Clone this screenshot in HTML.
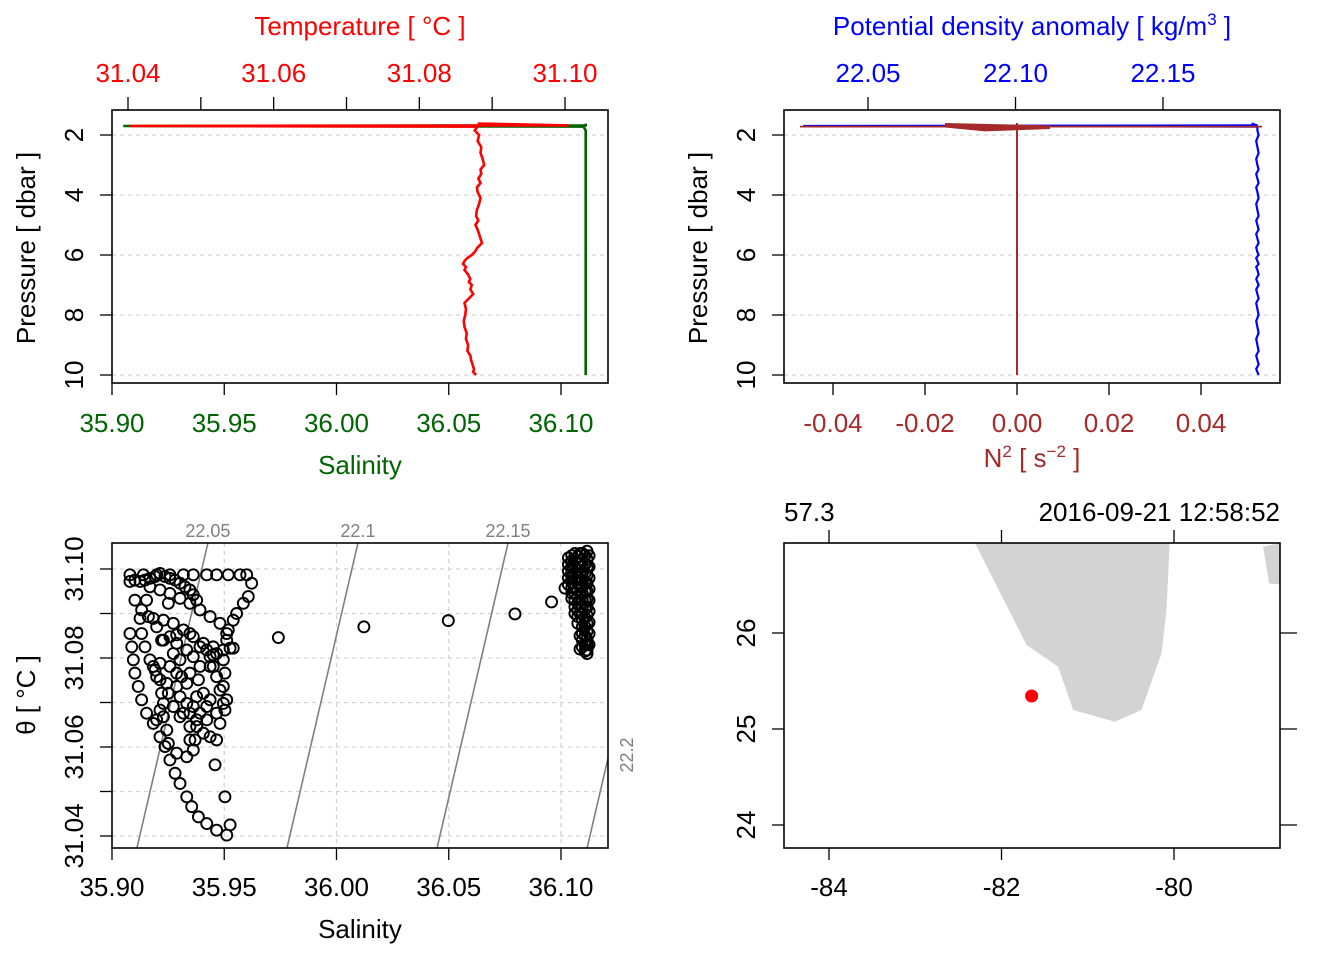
<!DOCTYPE html>
<html><head><meta charset="utf-8"><style>
html,body{margin:0;padding:0;background:#fff}
svg{display:block;font-family:"Liberation Sans",sans-serif}
</style></head><body>
<svg id="c" width="1344" height="960" viewBox="0 0 1344 960"></svg>
<script>
// ---------- data ----------
const profP = [1.62,1.68,1.70,1.72,1.85,2.0,2.2,2.4,2.6,2.8,3.0,3.15,3.3,3.45,3.6,3.75,3.9,4.1,4.3,4.5,4.7,4.85,5.0,5.15,5.3,5.45,5.6,5.75,5.9,6.0,6.1,6.2,6.3,6.4,6.5,6.65,6.8,6.9,7.0,7.15,7.3,7.45,7.6,7.8,8.0,8.2,8.4,8.6,8.8,9.0,9.2,9.35,9.5,9.65,9.8,9.9,10.0];
const profT = [31.0880,31.1005,31.0402,31.0880,31.0876,31.0882,31.0880,31.0885,31.0884,31.0887,31.0889,31.0884,31.0885,31.0881,31.0884,31.0879,31.0880,31.0884,31.0882,31.0879,31.0878,31.0881,31.0877,31.0880,31.0882,31.0884,31.0886,31.0880,31.0876,31.0872,31.0866,31.0862,31.0860,31.0864,31.0862,31.0867,31.0870,31.0868,31.0872,31.0870,31.0874,31.0868,31.0862,31.0864,31.0863,31.0861,31.0862,31.0865,31.0864,31.0867,31.0866,31.0870,31.0871,31.0873,31.0875,31.0874,31.0878];
const profS = [36.111,36.111,35.905,36.110,36.111,36.111,36.111,36.111,36.111,36.111,36.111,36.111,36.111,36.111,36.111,36.111,36.111,36.111,36.111,36.111,36.111,36.111,36.111,36.111,36.111,36.111,36.111,36.111,36.111,36.111,36.111,36.111,36.111,36.111,36.111,36.111,36.111,36.111,36.111,36.111,36.111,36.111,36.111,36.111,36.111,36.111,36.111,36.111,36.111,36.111,36.111,36.111,36.111,36.111,36.111,36.111,36.111];
const profSig = [22.180,22.182,22.028,22.182,22.182,22.182,22.182,22.182,22.182,22.182,22.182,22.182,22.182,22.182,22.182,22.182,22.182,22.182,22.182,22.182,22.182,22.182,22.182,22.182,22.182,22.182,22.182,22.182,22.182,22.182,22.182,22.182,22.182,22.182,22.182,22.182,22.182,22.182,22.182,22.182,22.182,22.182,22.182,22.182,22.182,22.182,22.182,22.182,22.182,22.182,22.182,22.182,22.182,22.182,22.182,22.182,22.182];
const tempTicks = [31.04,31.05,31.06,31.07,31.08,31.09,31.10];
const salTicks = [35.90,35.95,36.00,36.05,36.10];
const presTicks = [2,4,6,8,10];
const sigTicks = [22.05,22.10,22.15];
const n2Ticks = [-0.04,-0.02,0.00,0.02,0.04];
const thetaTicks = [31.04,31.05,31.06,31.07,31.08,31.09,31.10];
const isoLevels = [22.05,22.1,22.15,22.2];
const tsS = [35.9080,35.9140,35.9199,35.9258,35.9318,35.9362,35.9422,35.9466,35.9518,35.9570,35.9600,
35.9622,35.9607,35.9585,35.9555,35.9540,35.9518,35.9511,35.9526,
35.9080,35.9088,35.9095,35.9102,35.9117,35.9132,35.9154,35.9184,35.9214,35.9236,35.9258,35.9281,35.9303,35.9333,35.9355,35.9385,35.9422,35.9466,35.9511,35.9526,
35.9102,35.9125,35.9132,35.9147,35.9169,35.9192,35.9214,35.9221,35.9229,35.9229,35.9244,35.9251,35.9288,35.9333,35.9362,35.9370,35.9347,
35.9169,35.9214,35.9258,35.9303,35.9347,35.9392,35.9437,35.9481,35.9511,
35.9184,35.9229,35.9273,35.9318,35.9362,35.9407,35.9451,35.9496,35.9540,
35.9080,35.9102,35.9125,35.9147,35.9169,35.9192,35.9214,35.9236,35.9258,35.9281,35.9303,35.9325,35.9347,35.9362,35.9377,35.9251,35.9154,35.9132,35.9162,35.9199,35.9221,35.9288,35.9347,35.9392,35.9422,35.9451,
35.9333,35.9377,35.9422,35.9466,35.9496,35.9481,35.9466,35.9451,35.9437,35.9466,35.9496,35.9503,35.9496,35.9511,35.9503,35.9481,35.9437,35.9407,35.9377,35.9347,35.9333,35.9303,35.9288,35.9310,35.9347,35.9385,35.9407,35.9437,35.9392,35.9362,35.9318,35.9377,35.9422,35.9466,35.9347,35.9437,35.9392,35.9362,35.9333,35.9288,35.9258,35.9229,35.9273,35.9303,35.9258,35.9214,35.9184,35.9199,35.9244,35.9288,35.9251,35.9273,35.9303,35.9214,35.9199,
35.9459,35.9503,35.9741,36.0122,36.0498,36.0795,36.0958,36.1018,
36.1033,36.1033,36.1033,36.1033,36.1033,36.1062,36.1062,36.1062,36.1062,36.1062,36.1062,36.1062,36.1062,36.1062,36.1062,
36.1085,36.1085,36.1085,36.1085,36.1085,36.1085,36.1085,36.1085,36.1085,36.1085,36.1085,36.1085,
36.1107,36.1107,36.1107,36.1107,36.1107,36.1107,36.1107,36.1107,36.1107,36.1107,36.1107,36.1107,
36.1125,36.1125,36.1125,36.1125,36.1125,36.1125,36.1125,36.1125,36.1125,
36.1048,36.1048,36.1048,36.1048,36.1048,36.1048,36.1048,36.1048,36.1048,
36.1095,36.1095,36.1095,36.1095,36.1095,36.1095,36.1095,36.1095,36.1095,36.1095,36.1095,36.1095,36.1095,36.1095,36.1095,
36.1116,36.1116,36.1116,36.1116,36.1116,36.1116,36.1116,36.1116,36.1116,36.1116,36.1116,36.1116,36.1116,36.1116,36.1116,
36.1075,36.1075,36.1075,36.1075,36.1075,36.1075,36.1075,36.1075,36.1075,36.1075,36.1075];
const tsT = [31.0987,31.0987,31.0987,31.0987,31.0987,31.0987,31.0987,31.0987,31.0987,31.0987,31.0987,
31.0968,31.0938,31.0923,31.0900,31.0885,31.0863,31.0840,31.0822,
31.0855,31.0825,31.0796,31.0766,31.0736,31.0706,31.0676,31.0653,31.0623,31.0601,31.0571,31.0541,31.0518,31.0488,31.0466,31.0443,31.0428,31.0413,31.0402,31.0425,
31.0930,31.0889,31.0855,31.0825,31.0796,31.0773,31.0751,31.0721,31.0698,31.0668,31.0638,31.0608,31.0586,31.0578,31.0593,31.0616,31.0646,
31.0960,31.0953,31.0945,31.0934,31.0923,31.0908,31.0893,31.0878,31.0855,
31.0889,31.0885,31.0878,31.0863,31.0848,31.0833,31.0825,31.0818,31.0822,
31.0972,31.0975,31.0972,31.0975,31.0979,31.0983,31.0990,31.0983,31.0979,31.0975,31.0968,31.0960,31.0953,31.0942,31.0930,31.0923,31.0930,31.0908,31.0893,31.0870,31.0840,31.0852,31.0855,31.0825,31.0818,31.0807,
31.0743,31.0713,31.0691,31.0676,31.0698,31.0728,31.0758,31.0781,31.0803,31.0810,31.0796,31.0766,31.0736,31.0706,31.0683,31.0653,31.0623,31.0631,31.0646,31.0676,31.0698,31.0713,31.0736,31.0758,31.0766,31.0751,31.0721,31.0706,31.0676,31.0691,31.0676,31.0661,31.0661,31.0616,31.0616,31.0781,31.0781,31.0803,31.0818,31.0833,31.0848,31.0840,31.0810,31.0796,31.0781,31.0788,31.0781,31.0758,31.0743,31.0766,31.0721,31.0691,31.0668,31.0683,31.0661,
31.0560,31.0488,31.0846,31.0870,31.0884,31.0899,31.0926,31.0957,
31.1025,31.1010,31.0995,31.0980,31.0965,31.1035,31.1020,31.1005,31.0990,31.0975,31.0960,31.0945,31.0930,31.0915,31.0900,
31.1035,31.1020,31.1005,31.0990,31.0975,31.0960,31.0945,31.0930,31.0915,31.0900,31.0850,31.0820,
31.1030,31.1010,31.0990,31.0970,31.0950,31.0930,31.0910,31.0890,31.0870,31.0850,31.0830,31.0815,
31.1030,31.1005,31.0980,31.0955,31.0930,31.0905,31.0880,31.0855,31.0830,
31.1030,31.1018,31.1006,31.0994,31.0982,31.0970,31.0958,31.0946,31.0934,
31.1035,31.1020,31.1005,31.0990,31.0975,31.0960,31.0945,31.0930,31.0915,31.0900,31.0885,31.0870,31.0855,31.0840,31.0825,
31.1040,31.1022,31.1004,31.0986,31.0968,31.0950,31.0932,31.0914,31.0896,31.0878,31.0860,31.0842,31.0830,31.0818,31.0810,
31.1028,31.1013,31.0998,31.0983,31.0968,31.0953,31.0938,31.0923,31.0908,31.0893,31.0878];
const lonTicks = [-84,-82,-80];
const latTicks = [24,25,26];
const landLon = [-82.40,-81.709,-81.343,-81.169,-80.686,-80.377,-80.145,-80.087,-80.05,-80.05];
const landLat = [27.1,25.875,25.649,25.198,25.076,25.198,25.789,26.240,26.934,27.1];
const islandLon = [-78.967,-78.70,-78.70,-78.898];
const islandLat = [26.899,26.95,26.50,26.516];
const stationLon = [-81.651];
const stationLat = [25.344];

// ---------- helpers ----------
const svg = document.getElementById('c');
const NS = 'http://www.w3.org/2000/svg';
function el(tag, attrs, parent, text) {
  const e = document.createElementNS(NS, tag);
  for (const k in attrs) e.setAttribute(k, attrs[k]);
  if (text !== undefined) e.textContent = text;
  (parent || svg).appendChild(e);
  return e;
}
function lin(d0, d1, r0, r1) { return v => r0 + (v - d0) * (r1 - r0) / (d1 - d0); }
const FS = 26;

const defs = el('defs', {});
[['clip1',112,110,496,273],['clip2',784,110,496,273],['clip3',112,543,496,305],['clip4',784,543,496,305]].forEach(c => {
  const cp = el('clipPath', {id: c[0]}, defs);
  el('rect', {x: c[1], y: c[2], width: c[3], height: c[4]}, cp);
});

// ================= Panel 1 =================
const p1 = el('g', {});


const yP1 = lin(2, 10, 135, 375);
const xS = lin(35.90, 36.10, 112, 561);
const xT = lin(31.04, 31.10, 128, 565);
presTicks.forEach(p => {
  const g = el('line', {x1: 112, x2: 608, y1: yP1(p), y2: yP1(p), stroke: '#d3d3d3', 'stroke-width': 1.3, 'stroke-dasharray': '4 4'}, p1);
  
  
  el('line', {x1: 100, x2: 112, y1: yP1(p), y2: yP1(p), stroke: '#000', 'stroke-width': 1.3}, p1);
  const t = el('text', {x: 0, y: 0, 'font-size': FS, 'text-anchor': 'middle', transform: `translate(83,${yP1(p)}) rotate(-90)`}, p1, String(p));
  
  
});
salTicks.forEach(s => {
  el('line', {x1: xS(s), x2: xS(s), y1: 383, y2: 395, stroke: '#000', 'stroke-width': 1.3}, p1);
  const t = el('text', {x: xS(s), y: 432, 'font-size': FS, 'text-anchor': 'middle', fill: '#006400'}, p1, s.toFixed(2));
  
  
});
tempTicks.forEach((v, i) => {
  el('line', {x1: xT(v), x2: xT(v), y1: 97, y2: 110, stroke: '#000', 'stroke-width': 1.3}, p1);
  if (i % 2 === 0) {
    const t = el('text', {x: xT(v), y: 82, 'font-size': FS, 'text-anchor': 'middle', fill: '#ff0000'}, p1, v.toFixed(2));
    
    
  }
});
const cl1 = el('g', {'clip-path': 'url(#clip1)'}, p1);
const sLine = el('polyline', {points: profP.map((p, i) => `${xS(profS[i])},${yP1(p)}`).join(' '), fill: 'none', stroke: '#006400', 'stroke-width': 2.6}, cl1);


const tLine = el('polyline', {points: profP.map((p, i) => `${xT(profT[i])},${yP1(p)}`).join(' '), fill: 'none', stroke: '#ff0000', 'stroke-width': 2.6}, cl1);


el('rect', {x: 112, y: 110, width: 496, height: 273, fill: 'none', stroke: '#000', 'stroke-width': 1.6}, p1);
const tt1 = el('text', {x: 360, y: 35, 'font-size': FS, 'text-anchor': 'middle', fill: '#ff0000'}, p1, 'Temperature [ °C ]');


const st1 = el('text', {x: 360, y: 474, 'font-size': FS, 'text-anchor': 'middle', fill: '#006400'}, p1, 'Salinity');


const pt1 = el('text', {x: 0, y: 0, 'font-size': FS, 'text-anchor': 'middle', transform: 'translate(35,248) rotate(-90)'}, p1, 'Pressure [ dbar ]');



// ================= Panel 2 =================
const p2 = el('g', {});


const yP2 = lin(2, 10, 135, 375);
const xSig = lin(22.05, 22.15, 868, 1163);
const xN = lin(-0.04, 0.04, 833, 1201);
presTicks.forEach(p => {
  el('line', {x1: 784, x2: 1280, y1: yP2(p), y2: yP2(p), stroke: '#d3d3d3', 'stroke-width': 1.3, 'stroke-dasharray': '4 4'}, p2);
  el('line', {x1: 772, x2: 784, y1: yP2(p), y2: yP2(p), stroke: '#000', 'stroke-width': 1.3}, p2);
  const t = el('text', {x: 0, y: 0, 'font-size': FS, 'text-anchor': 'middle', transform: `translate(755,${yP2(p)}) rotate(-90)`}, p2, String(p));
  
  
});
sigTicks.forEach(v => {
  el('line', {x1: xSig(v), x2: xSig(v), y1: 97, y2: 110, stroke: '#000', 'stroke-width': 1.3}, p2);
  const t = el('text', {x: xSig(v), y: 82, 'font-size': FS, 'text-anchor': 'middle', fill: '#0000ff'}, p2, v.toFixed(2));
  
  
});
n2Ticks.forEach(v => {
  el('line', {x1: xN(v), x2: xN(v), y1: 383, y2: 395, stroke: '#000', 'stroke-width': 1.3}, p2);
  const t = el('text', {x: xN(v), y: 432, 'font-size': FS, 'text-anchor': 'middle', fill: '#a52a2a'}, p2, v.toFixed(2));
  
  
});
const cl2 = el('g', {'clip-path': 'url(#clip2)'}, p2);
const sigLine = el('polyline', {points: profP.map((p, i) => `${xSig(profSig[i]) + (i > 3 ? (i % 3 - 1) * 1.2 : 0)},${yP2(p)}`).join(' '), fill: 'none', stroke: '#0000ff', 'stroke-width': 2.2}, cl2);


const n2a = el('line', {x1: 800, x2: 1262, y1: yP2(1.72), y2: yP2(1.72), stroke: '#a52a2a', 'stroke-width': 1.8}, cl2);


el('polygon', {points: `945,${yP2(1.6)} 1050,${yP2(1.68)} 1050,${yP2(1.8)} 985,${yP2(1.88)} 945,${yP2(1.75)}`, fill: '#a52a2a'}, cl2);
const n2b = el('line', {x1: xN(0), x2: xN(0), y1: yP2(1.6), y2: yP2(10), stroke: '#a52a2a', 'stroke-width': 2}, cl2);


el('rect', {x: 784, y: 110, width: 496, height: 273, fill: 'none', stroke: '#000', 'stroke-width': 1.6}, p2);
const tt2 = el('text', {x: 1032, y: 35, 'font-size': FS, 'text-anchor': 'middle', fill: '#0000ff'}, p2);


tt2.innerHTML = 'Potential density anomaly [ kg/m<tspan dy="-10" font-size="17">3</tspan><tspan dy="10"> ]</tspan>';
const nt2 = el('text', {x: 1032, y: 467, 'font-size': FS, 'text-anchor': 'middle', fill: '#a52a2a'}, p2);


nt2.innerHTML = 'N<tspan dy="-10" font-size="17">2</tspan><tspan dy="10"> [ s</tspan><tspan dy="-10" font-size="17">−2</tspan><tspan dy="10"> ]</tspan>';
const pt2 = el('text', {x: 0, y: 0, 'font-size': FS, 'text-anchor': 'middle', transform: 'translate(707,248) rotate(-90)'}, p2, 'Pressure [ dbar ]');



// ================= Panel 3 (TS) =================
const p3 = el('g', {});


const xS3 = lin(35.90, 36.10, 112, 561);
const yTh = lin(31.04, 31.10, 836, 569);
const cl3 = el('g', {'clip-path': 'url(#clip3)'}, p3);
salTicks.forEach(s => {
  el('line', {x1: xS3(s), x2: xS3(s), y1: 543, y2: 848, stroke: '#d3d3d3', 'stroke-width': 1.3, 'stroke-dasharray': '4 4'}, cl3);
  el('line', {x1: xS3(s), x2: xS3(s), y1: 848, y2: 860, stroke: '#000', 'stroke-width': 1.3}, p3);
  const t = el('text', {x: xS3(s), y: 896, 'font-size': FS, 'text-anchor': 'middle'}, p3, s.toFixed(2));
  
  
});
thetaTicks.forEach((v, i) => {
  el('line', {x1: 112, x2: 608, y1: yTh(v), y2: yTh(v), stroke: '#d3d3d3', 'stroke-width': 1.3, 'stroke-dasharray': '4 4'}, cl3);
  el('line', {x1: 100, x2: 112, y1: yTh(v), y2: yTh(v), stroke: '#000', 'stroke-width': 1.3}, p3);
  if (i % 2 === 0) {
    const t = el('text', {x: 0, y: 0, 'font-size': FS, 'text-anchor': 'middle', transform: `translate(83,${yTh(v)}) rotate(-90)`}, p3, v.toFixed(2));
    
    
  }
});
function sAtSigma(sig, T) { return 35.9111 + ((sig - 22.05) + 0.345 * (T - 31.0373)) / 0.748; }
isoLevels.forEach(sig => {
  const Ta = 31.03, Tb = 31.11;
  const ln = el('line', {x1: xS3(sAtSigma(sig, Ta)), y1: yTh(Ta), x2: xS3(sAtSigma(sig, Tb)), y2: yTh(Tb), stroke: '#808080', 'stroke-width': 1.6}, cl3);
  
  
  const Ttop = 31.10 + 26 / 4450;
  const xl = xS3(sAtSigma(sig, Ttop));
  let t;
  if (xl < 600) {
    t = el('text', {x: xl, y: 537, 'font-size': 18, 'text-anchor': 'middle', fill: '#808080'}, p3, String(sig));
  } else {
    t = el('text', {x: 0, y: 0, 'font-size': 18, 'text-anchor': 'middle', fill: '#808080', transform: `translate(633,755) rotate(-90)`}, p3, String(sig));
  }
  
  
});
tsS.forEach((s, i) => {
  const c = el('circle', {cx: xS3(s), cy: yTh(tsT[i]), r: 5.5, fill: 'none', stroke: '#000', 'stroke-width': 1.9}, cl3);
  
  
});
el('rect', {x: 112, y: 543, width: 496, height: 305, fill: 'none', stroke: '#000', 'stroke-width': 1.6}, p3);
const st3 = el('text', {x: 360, y: 938, 'font-size': FS, 'text-anchor': 'middle'}, p3, 'Salinity');


const tht = el('text', {x: 0, y: 0, 'font-size': FS, 'text-anchor': 'middle', transform: 'translate(35,695) rotate(-90)'}, p3, 'θ [ °C ]');



// ================= Panel 4 (map) =================
const p4 = el('g', {});


const xLon = lin(-84, -80, 829, 1174);
const yLat = lin(24, 26, 825, 633);
const cl4 = el('g', {'clip-path': 'url(#clip4)'}, p4);
const land = el('polygon', {points: landLon.map((l, i) => `${xLon(l)},${yLat(landLat[i])}`).join(' '), fill: '#d3d3d3'}, cl4);


const isl = el('polygon', {points: islandLon.map((l, i) => `${xLon(l)},${yLat(islandLat[i])}`).join(' '), fill: '#d3d3d3'}, cl4);


stationLon.forEach((l, i) => {
  const d = el('circle', {cx: xLon(l), cy: yLat(stationLat[i]), r: 6.5, fill: '#ff0000'}, cl4);
  
  
});
lonTicks.forEach(l => {
  el('line', {x1: xLon(l), x2: xLon(l), y1: 848, y2: 860, stroke: '#000', 'stroke-width': 1.3}, p4);
  el('line', {x1: xLon(l), x2: xLon(l), y1: 530, y2: 543, stroke: '#000', 'stroke-width': 1.3}, p4);
  const t = el('text', {x: xLon(l), y: 896, 'font-size': FS, 'text-anchor': 'middle'}, p4, String(l));
  
  
});
latTicks.forEach(l => {
  el('line', {x1: 772, x2: 784, y1: yLat(l), y2: yLat(l), stroke: '#000', 'stroke-width': 1.3}, p4);
  el('line', {x1: 1280, x2: 1297, y1: yLat(l), y2: yLat(l), stroke: '#000', 'stroke-width': 1.3}, p4);
  const t = el('text', {x: 0, y: 0, 'font-size': FS, 'text-anchor': 'middle', transform: `translate(755,${yLat(l)}) rotate(-90)`}, p4, String(l));
  
  
});
el('rect', {x: 784, y: 543, width: 496, height: 305, fill: 'none', stroke: '#000', 'stroke-width': 1.6}, p4);
const dl = el('text', {x: 784, y: 521, 'font-size': FS}, p4, '57.3');


const dt = el('text', {x: 1280, y: 521, 'font-size': FS, 'text-anchor': 'end'}, p4, '2016-09-21 12:58:52');


</script>
</body></html>
